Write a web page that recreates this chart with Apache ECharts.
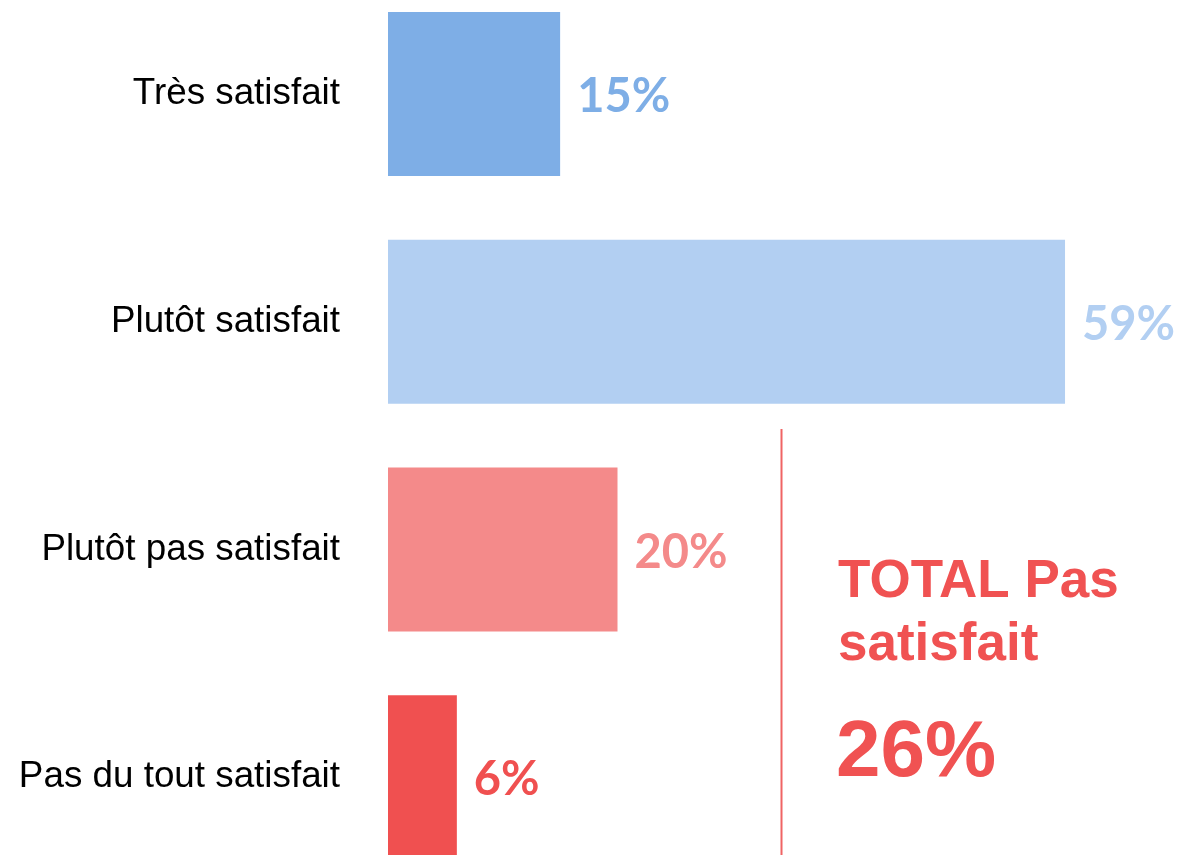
<!DOCTYPE html>
<html>
<head>
<meta charset="utf-8">
<script src="https://cdn.jsdelivr.net/npm/echarts@6/dist/echarts.min.js"></script>
<style>
  html, body { margin: 0; padding: 0; background: #fff; overflow: hidden; }
  /* le graphique déborde un peu en haut et en bas, comme l'original */
  #chart { position: absolute; left: 0; top: -20px; width: 1179px; height: 911px; }
</style>
</head>
<body>
<div id="chart"></div>
<script>
// données
const categories = ['Très satisfait', 'Plutôt satisfait', 'Plutôt pas satisfait', 'Pas du tout satisfait'];
const values = [15, 59, 20, 6];
const barColors = ['#7eaee6', '#b2cff2', '#f48a8a', '#f05050'];
const totalLabel = 'TOTAL Pas\nsatisfait';
const totalValue = '26%';

const chart = echarts.init(document.getElementById('chart'));

const option = {
  animation: false,
  grid: {
    left: 388,
    right: 102.5,
    top: 0,
    bottom: 0
  },
  xAxis: {
    type: 'value',
    min: 0,
    max: 60,
    axisLine: { show: false },
    axisTick: { show: false },
    axisLabel: { show: false },
    splitLine: { show: false }
  },
  yAxis: {
    type: 'category',
    inverse: true,
    data: categories,
    axisLine: { show: false },
    axisTick: { show: false },
    axisLabel: {
      color: '#000',
      fontFamily: 'Liberation Sans, Arial, sans-serif',
      fontSize: 36.8,
      margin: 48,
      padding: [6, 0, 0, 0]
    }
  },
  series: [{
    type: 'bar',
    barWidth: 164,
    data: values.map((v, i) => ({
      value: v,
      itemStyle: { color: barColors[i] },
      label: { color: barColors[i] }
    })),
    label: {
      show: true,
      position: 'right',
      distance: 17,
      offset: [0, 3],
      formatter: '{c}%',
      fontFamily: 'Lato, sans-serif',
      fontWeight: 'bold',
      fontSize: 47
    }
  }],
  graphic: [
    {
      type: 'line',
      shape: { x1: 781.5, y1: 449, x2: 781.5, y2: 911 },
      style: { stroke: '#f06464', lineWidth: 2 }
    },
    {
      type: 'text',
      left: 838,
      top: 571,
      style: {
        text: totalLabel,
        fill: '#f05252',
        font: 'bold 53px "Liberation Sans", Arial, sans-serif',
        lineHeight: 63
      }
    },
    {
      type: 'text',
      left: 836,
      top: 734,
      style: {
        text: totalValue,
        fill: '#f05252',
        font: 'bold 80px "Liberation Sans", Arial, sans-serif'
      }
    }
  ]
};

chart.setOption(option);
</script>
</body>
</html>
